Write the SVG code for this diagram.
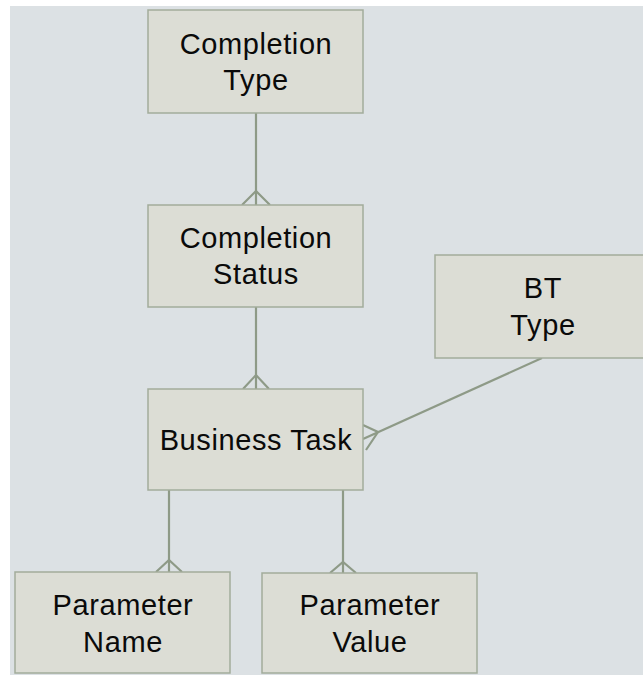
<svg xmlns="http://www.w3.org/2000/svg" width="643" height="675" viewBox="0 0 643 675">
  <style>
    .entity rect { fill: #dcddd5; stroke: #a2ac9b; stroke-width: 1.5; }
    .entity text { font-family: "Liberation Sans", Arial, sans-serif; font-size: 29px; fill: #0a0a0a; text-anchor: middle; letter-spacing: 0.6px; }
    #connectors line, #connectors polyline { stroke: #8e9a87; stroke-width: 2.2; fill: none; }
  </style>
  <rect width="643" height="675" fill="#ffffff"/>
  <rect x="10" y="6" width="633" height="669" fill="#dce1e4"/>

  <g id="connectors">
    <!-- Completion Type to Completion Status -->
    <line x1="256" y1="113" x2="256" y2="205"/>
    <polyline points="242,205 256,191 270,205"/>
    <!-- Completion Status to Business Task -->
    <line x1="256" y1="307" x2="256" y2="389"/>
    <polyline points="243,389 256,375 269,389"/>
    <!-- BT Type to Business Task -->
    <line x1="542" y1="358" x2="363" y2="439"/>
    <polyline points="363,425 378,432 366,450"/>
    <!-- Business Task to Parameter Name -->
    <line x1="169" y1="490" x2="169" y2="572"/>
    <polyline points="156,572 169,560 182,572"/>
    <!-- Business Task to Parameter Value -->
    <line x1="343" y1="490" x2="343" y2="573"/>
    <polyline points="330,573 343,562 356,573"/>
  </g>

  <g id="completion-type" class="entity">
    <rect x="148" y="10" width="215" height="103"/>
    <text x="256" y="54">Completion</text>
    <text x="256" y="90">Type</text>
  </g>

  <g id="completion-status" class="entity">
    <rect x="148" y="205" width="215" height="102"/>
    <text x="256" y="248">Completion</text>
    <text x="256" y="284">Status</text>
  </g>

  <g id="bt-type" class="entity">
    <rect x="435" y="255" width="215" height="103"/>
    <text x="543" y="298">BT</text>
    <text x="543" y="335">Type</text>
  </g>

  <g id="business-task" class="entity">
    <rect x="148" y="389" width="215" height="101"/>
    <text x="256" y="450">Business Task</text>
  </g>

  <g id="parameter-name" class="entity">
    <rect x="15" y="572" width="215" height="101"/>
    <text x="123" y="615">Parameter</text>
    <text x="123" y="652">Name</text>
  </g>

  <g id="parameter-value" class="entity">
    <rect x="262" y="573" width="215" height="100"/>
    <text x="370" y="615">Parameter</text>
    <text x="370" y="652">Value</text>
  </g>
</svg>
